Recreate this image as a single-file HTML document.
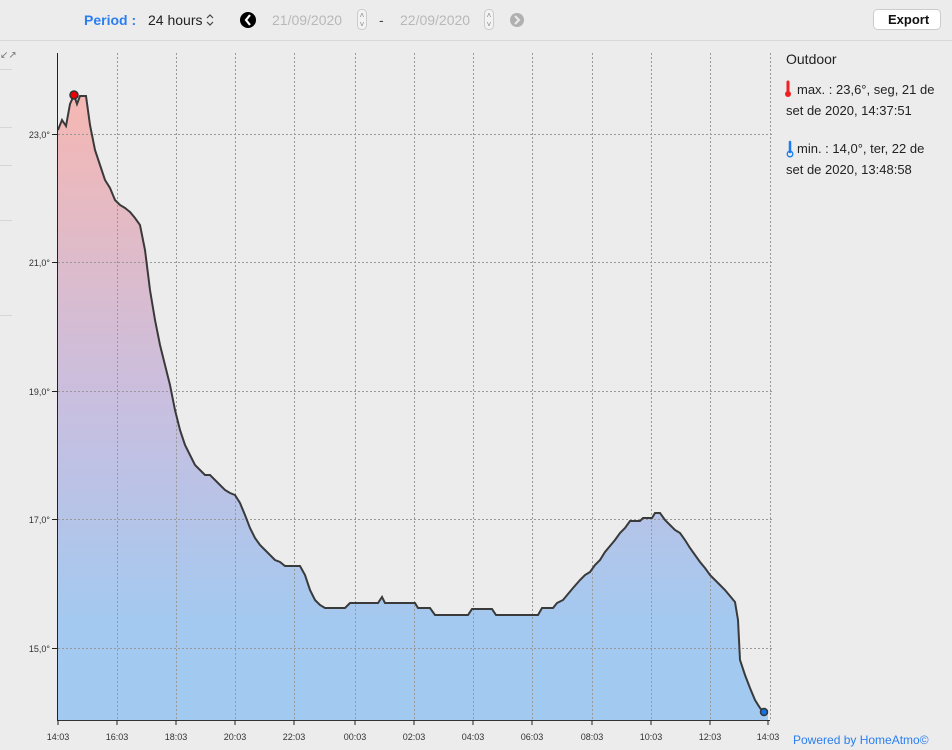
<!DOCTYPE html>
<html><head><meta charset="utf-8"><style>
body{margin:0;width:952px;height:750px;background:#ececec;font-family:"Liberation Sans",sans-serif;overflow:hidden;position:relative}
.t{position:absolute;white-space:nowrap}
</style></head><body>
<svg width="952" height="750" style="position:absolute;left:0;top:0">
<defs><linearGradient id="g" x1="0" y1="0" x2="0" y2="1">
<stop offset="0" stop-color="#f6b7b3"/><stop offset="0.5" stop-color="#c8bfe0"/><stop offset="0.85" stop-color="#a3c9f0"/><stop offset="1" stop-color="#a2caf1"/></linearGradient></defs>
<line x1="0" y1="40.5" x2="952" y2="40.5" stroke="#d8d8d8"/>
<line x1="0" y1="69.5" x2="12" y2="69.5" stroke="#d6d6d6"/>
<line x1="0" y1="127.5" x2="12" y2="127.5" stroke="#d6d6d6"/>
<line x1="0" y1="165.5" x2="12" y2="165.5" stroke="#d6d6d6"/>
<line x1="0" y1="220.5" x2="12" y2="220.5" stroke="#d6d6d6"/>
<line x1="0" y1="315.5" x2="12" y2="315.5" stroke="#d6d6d6"/>
<text x="0" y="58" font-size="10" fill="#777">↙↗</text>
<polygon fill="url(#g)" points="58,720 58,130 62,120 66,126 70,104 74,95 77,104 80,96 86,96 90,125 95,150 100,165 105,180 110,188 115,200 120,205 125,208 130,212 135,218 140,225 145,250 150,290 155,320 160,345 165,365 170,385 175,410 180,430 185,445 190,455 195,465 200,470 205,475 210,475 215,480 220,485 225,490 230,493 235,495 240,503 245,515 250,528 255,538 260,545 265,550 270,555 275,560 280,562 285,566 300,566 305,575 310,590 315,600 320,605 325,608 345,608 350,603 378,603 382,597 385,603 415,603 418,608 430,608 435,615 468,615 472,609 492,609 496,615 538,615 542,608 553,608 557,603 563,600 568,594 573,588 580,580 585,575 590,572 595,565 600,560 605,552 610,546 615,540 620,533 625,528 630,521 640,521 643,518 652,518 655,513 660,513 665,520 670,525 675,530 680,533 685,540 690,548 695,555 700,562 705,568 710,575 715,580 720,585 725,590 730,596 735,602 738,620 740,660 745,675 750,688 755,700 760,708 764,712 768,712 768,720"/>
<g stroke="#999" stroke-dasharray="2,2" stroke-width="1">
<line x1="58" y1="134.5" x2="772" y2="134.5"/><line x1="58" y1="262.5" x2="772" y2="262.5"/><line x1="58" y1="391.5" x2="772" y2="391.5"/><line x1="58" y1="519.5" x2="772" y2="519.5"/><line x1="58" y1="648.5" x2="772" y2="648.5"/>
<line x1="117.5" y1="53" x2="117.5" y2="720"/><line x1="176.5" y1="53" x2="176.5" y2="720"/><line x1="235.5" y1="53" x2="235.5" y2="720"/><line x1="294.5" y1="53" x2="294.5" y2="720"/><line x1="355.5" y1="53" x2="355.5" y2="720"/><line x1="414.5" y1="53" x2="414.5" y2="720"/><line x1="473.5" y1="53" x2="473.5" y2="720"/><line x1="532.5" y1="53" x2="532.5" y2="720"/><line x1="592.5" y1="53" x2="592.5" y2="720"/><line x1="651.5" y1="53" x2="651.5" y2="720"/><line x1="710.5" y1="53" x2="710.5" y2="720"/><line x1="770.5" y1="53" x2="770.5" y2="720"/>
</g>
<polyline fill="none" stroke="#3a3a3a" stroke-width="2" points="58,130 62,120 66,126 70,104 74,95 77,104 80,96 86,96 90,125 95,150 100,165 105,180 110,188 115,200 120,205 125,208 130,212 135,218 140,225 145,250 150,290 155,320 160,345 165,365 170,385 175,410 180,430 185,445 190,455 195,465 200,470 205,475 210,475 215,480 220,485 225,490 230,493 235,495 240,503 245,515 250,528 255,538 260,545 265,550 270,555 275,560 280,562 285,566 300,566 305,575 310,590 315,600 320,605 325,608 345,608 350,603 378,603 382,597 385,603 415,603 418,608 430,608 435,615 468,615 472,609 492,609 496,615 538,615 542,608 553,608 557,603 563,600 568,594 573,588 580,580 585,575 590,572 595,565 600,560 605,552 610,546 615,540 620,533 625,528 630,521 640,521 643,518 652,518 655,513 660,513 665,520 670,525 675,530 680,533 685,540 690,548 695,555 700,562 705,568 710,575 715,580 720,585 725,590 730,596 735,602 738,620 740,660 745,675 750,688 755,700 760,708 764,712"/>
<line x1="57.5" y1="53" x2="57.5" y2="721" stroke="#222"/>
<line x1="57" y1="720.5" x2="770" y2="720.5" stroke="#333"/>
<g stroke="#222"><line x1="52" y1="134.5" x2="58" y2="134.5"/><line x1="52" y1="262.5" x2="58" y2="262.5"/><line x1="52" y1="391.5" x2="58" y2="391.5"/><line x1="52" y1="519.5" x2="58" y2="519.5"/><line x1="52" y1="648.5" x2="58" y2="648.5"/>
<line x1="58" y1="720" x2="58" y2="725"/><line x1="117" y1="720" x2="117" y2="725"/><line x1="176" y1="720" x2="176" y2="725"/><line x1="235" y1="720" x2="235" y2="725"/><line x1="294" y1="720" x2="294" y2="725"/><line x1="355" y1="720" x2="355" y2="725"/><line x1="414" y1="720" x2="414" y2="725"/><line x1="473" y1="720" x2="473" y2="725"/><line x1="532" y1="720" x2="532" y2="725"/><line x1="592" y1="720" x2="592" y2="725"/><line x1="651" y1="720" x2="651" y2="725"/><line x1="710" y1="720" x2="710" y2="725"/><line x1="768" y1="720" x2="768" y2="725"/></g>
<g font-size="9" fill="#333" text-anchor="end"><text x="50" y="138">23,0°</text><text x="50" y="266">21,0°</text><text x="50" y="395">19,0°</text><text x="50" y="523">17,0°</text><text x="50" y="652">15,0°</text></g>
<g font-size="9" fill="#333" text-anchor="middle"><text x="58" y="740">14:03</text><text x="117" y="740">16:03</text><text x="176" y="740">18:03</text><text x="235" y="740">20:03</text><text x="294" y="740">22:03</text><text x="355" y="740">00:03</text><text x="414" y="740">02:03</text><text x="473" y="740">04:03</text><text x="532" y="740">06:03</text><text x="592" y="740">08:03</text><text x="651" y="740">10:03</text><text x="710" y="740">12:03</text><text x="768" y="740">14:03</text></g>
<circle cx="74" cy="95" r="4" fill="#e00" stroke="#333" stroke-width="1.5"/>
<circle cx="764" cy="712" r="3.5" fill="#1670e0" stroke="#333" stroke-width="1.5"/>
<circle cx="248" cy="20" r="8" fill="#000"/><path d="M250,15 l-4,5 l4,5" stroke="#fff" stroke-width="2.2" fill="none"/>
<circle cx="517" cy="20" r="7" fill="#b0b0b0"/><path d="M515,16 l4,4 l-4,4" stroke="#ececec" stroke-width="2" fill="none"/>
<path d="M207,18 l3,-3 l3,3 M207,22 l3,3 l3,-3" stroke="#444" stroke-width="1.2" fill="none"/>
<rect x="357.5" y="9.5" width="9" height="20" rx="4" fill="#f3f3f3" stroke="#ccc"/>
<rect x="484.5" y="9.5" width="9" height="20" rx="4" fill="#f3f3f3" stroke="#ccc"/>
<text x="362" y="18" font-size="8" fill="#888" text-anchor="middle">˄</text><text x="362" y="27" font-size="8" fill="#888" text-anchor="middle">˅</text>
<text x="489" y="18" font-size="8" fill="#888" text-anchor="middle">˄</text><text x="489" y="27" font-size="8" fill="#888" text-anchor="middle">˅</text>
<rect x="873.5" y="9.5" width="67" height="20" rx="4" fill="#fff" stroke="#ccc"/>
<path d="M788,82 v10" stroke="#e22" stroke-width="3" stroke-linecap="round"/><circle cx="788" cy="94" r="3" fill="#e22"/>
<path d="M790,142 v10" stroke="#1a7cf0" stroke-width="2.5" stroke-linecap="round" fill="none"/><circle cx="790" cy="154" r="2.8" fill="none" stroke="#1a7cf0" stroke-width="1.3"/>
</svg>
<div class="t" style="left:84px;top:12px;font-size:14px;color:#2a7ef0;font-weight:bold">Period :</div>
<div class="t" style="left:148px;top:12px;font-size:14px;color:#222">24 hours</div>
<div class="t" style="left:272px;top:12px;font-size:14px;color:#b8b8b8">21/09/2020</div>
<div class="t" style="left:379px;top:12px;font-size:14px;color:#444">-</div>
<div class="t" style="left:400px;top:12px;font-size:14px;color:#b8b8b8">22/09/2020</div>
<div class="t" style="left:888px;top:12px;font-size:13px;color:#111;font-weight:bold">Export</div>
<div class="t" style="left:786px;top:51px;font-size:14px;color:#222">Outdoor</div>
<div class="t" style="left:797px;top:82px;font-size:13px;color:#222">max. : 23,6°, seg, 21 de</div>
<div class="t" style="left:786px;top:103px;font-size:13px;color:#222">set de 2020, 14:37:51</div>
<div class="t" style="left:797px;top:141px;font-size:13px;color:#222">min. : 14,0°, ter, 22 de</div>
<div class="t" style="left:786px;top:162px;font-size:13px;color:#222">set de 2020, 13:48:58</div>
<div class="t" style="left:793px;top:733px;font-size:12px;color:#2a7ef0">Powered by HomeAtmo©</div>
</body></html>
